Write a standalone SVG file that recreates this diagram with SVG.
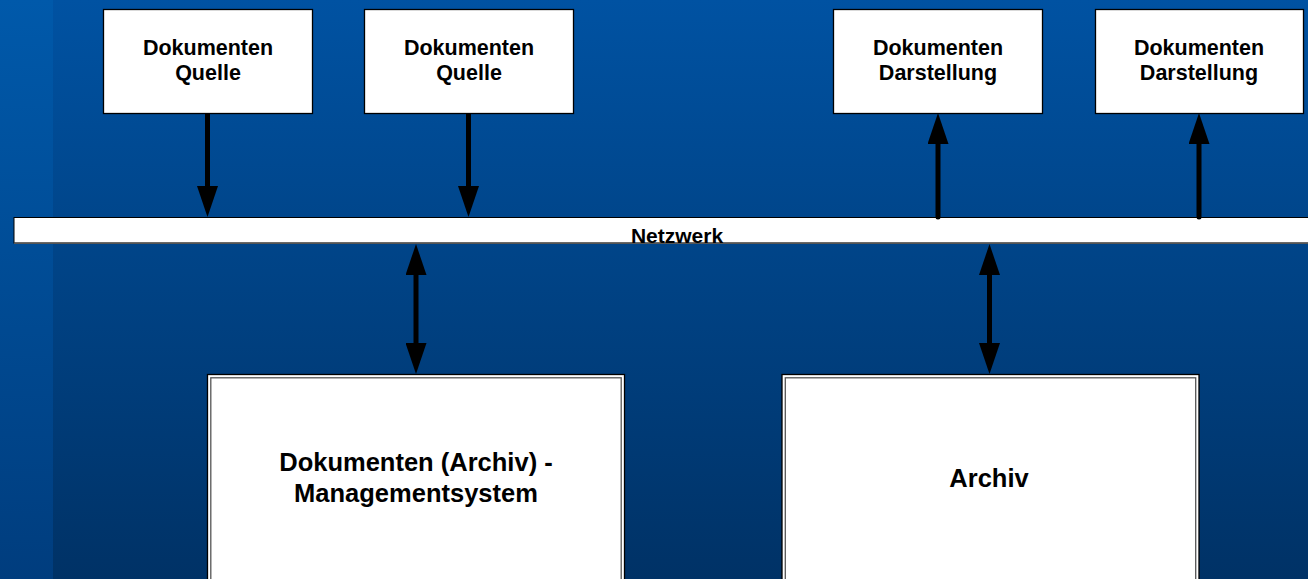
<svg xmlns="http://www.w3.org/2000/svg" width="1308" height="579" viewBox="0 0 1308 579">
  <defs>
    <linearGradient id="bgMain" x1="0" y1="0" x2="0" y2="1">
      <stop offset="0" stop-color="#0052a2"/>
      <stop offset="1" stop-color="#003266"/>
    </linearGradient>
    <linearGradient id="bgStrip" x1="0" y1="0" x2="0" y2="1">
      <stop offset="0" stop-color="#0059aa"/>
      <stop offset="1" stop-color="#003d7e"/>
    </linearGradient>
    <!-- arrowhead drawn beyond the end of the shaft: 31 long, 21 wide -->
    <marker id="head" viewBox="0 0 31 21" refX="0" refY="10.5" markerWidth="31" markerHeight="21" markerUnits="userSpaceOnUse" orient="auto-start-reverse">
      <path d="M0,0 L31,10.5 L0,21 Z" fill="#000"/>
    </marker>
  </defs>
  <style>
    .box { fill: #ffffff; stroke: #000; stroke-width: 1.3; }
    .inner { fill: none; stroke: #555; stroke-width: 1.3; }
    .lbl { font-family: "Liberation Sans", Arial, sans-serif; font-weight: bold; fill: #000; text-anchor: middle; }
    .small { font-size: 21.5px; }
    .big { font-size: 25.5px; }
    .wire { stroke: #000; stroke-width: 5; fill: none; }
  </style>

  <!-- background -->
  <rect x="0" y="0" width="1308" height="579" fill="url(#bgMain)"/>
  <rect x="0" y="0" width="53" height="579" fill="url(#bgStrip)"/>

  <!-- network bus -->
  <g id="netzwerk">
    <rect x="14" y="217.5" width="1300" height="25.5" fill="#fff" stroke="#000" stroke-width="1"/>
    <line x1="14" y1="243.3" x2="1308" y2="243.3" stroke="#555" stroke-width="1.6"/>
    <text class="lbl" x="677" y="242.5" font-size="21px">Netzwerk</text>
  </g>

  <!-- sources -->
  <g id="quelle1">
    <rect class="box" x="103.5" y="9.5" width="209" height="104"/>
    <text class="lbl small" x="208" y="55">Dokumenten</text>
    <text class="lbl small" x="208" y="80">Quelle</text>
  </g>
  <g id="quelle2">
    <rect class="box" x="364.5" y="9.5" width="209" height="104"/>
    <text class="lbl small" x="469" y="55">Dokumenten</text>
    <text class="lbl small" x="469" y="80">Quelle</text>
  </g>

  <!-- displays -->
  <g id="darstellung1">
    <rect class="box" x="833.5" y="9.5" width="209" height="104"/>
    <text class="lbl small" x="938" y="55">Dokumenten</text>
    <text class="lbl small" x="938" y="80">Darstellung</text>
  </g>
  <g id="darstellung2">
    <rect class="box" x="1095.5" y="9.5" width="208" height="104"/>
    <text class="lbl small" x="1199" y="55">Dokumenten</text>
    <text class="lbl small" x="1199" y="80">Darstellung</text>
  </g>

  <!-- management system -->
  <g id="dms">
    <rect class="box" x="207.5" y="374.5" width="417" height="220"/>
    <rect class="inner" x="210.8" y="377.8" width="410.4" height="220"/>
    <text class="lbl big" x="416" y="471">Dokumenten (Archiv) -</text>
    <text class="lbl big" x="416" y="501.5">Managementsystem</text>
  </g>

  <!-- archive -->
  <g id="archiv">
    <rect class="box" x="782" y="374.5" width="417" height="220"/>
    <rect class="inner" x="785.3" y="377.8" width="410.4" height="220"/>
    <text class="lbl big" x="989" y="486.5">Archiv</text>
  </g>

  <!-- connectors -->
  <g id="connectors">
    <line class="wire" x1="207.5" y1="113" x2="207.5" y2="186" marker-end="url(#head)"/>
    <line class="wire" x1="468.5" y1="113" x2="468.5" y2="186" marker-end="url(#head)"/>
    <line class="wire" x1="938" y1="217" x2="938" y2="144" marker-end="url(#head)" stroke-linecap="round"/>
    <line class="wire" x1="1199" y1="217" x2="1199" y2="144" marker-end="url(#head)" stroke-linecap="round"/>
    <line class="wire" x1="416" y1="275" x2="416" y2="343" marker-start="url(#head)" marker-end="url(#head)"/>
    <line class="wire" x1="989.5" y1="275" x2="989.5" y2="343" marker-start="url(#head)" marker-end="url(#head)"/>
  </g>
</svg>
